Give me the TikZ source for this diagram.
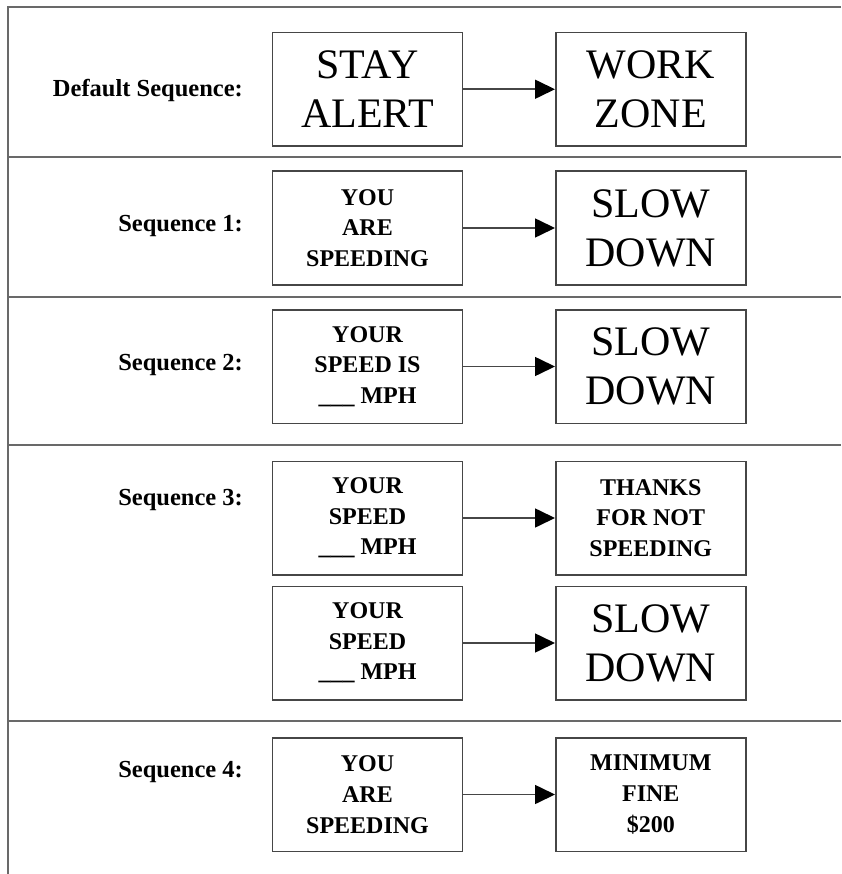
\documentclass[tikz,border=0pt]{standalone}
\usepackage{fontspec}
\setmainfont{Liberation Serif}
\usetikzlibrary{arrows.meta}
\definecolor{linegray}{RGB}{105,105,105}
\definecolor{boxgray}{RGB}{70,70,70}
\begin{document}
\begin{tikzpicture}[x=1pt,y=-1pt,
  frame/.style={draw=linegray, line width=2pt},
  box/.style={draw=boxgray, line width=1.5pt, minimum width=190pt, minimum height=113.5pt, inner sep=0pt, align=center, text=black},
  big/.style={box, font=\fontsize{42}{49}\selectfont},
  small/.style={box, font=\fontsize{24}{30.7}\selectfont\bfseries},
  lab/.style={anchor=base east, inner sep=0pt, font=\fontsize{24.5}{30}\selectfont\bfseries},
  conn/.style={draw=boxgray, line width=1.6pt, -{Triangle[length=20pt,width=19pt,black]}}]
\useasboundingbox (0,0) rectangle (841,874);
% frame and separators
\draw[frame] (841,7.5) -- (7.5,7.5) -- (7.5,874);
\draw[frame] (7.5,157.5) -- (841,157.5);
\draw[frame] (7.5,296.5) -- (841,296.5);
\draw[frame] (7.5,445) -- (841,445);
\draw[frame] (7.5,720.5) -- (841,720.5);
% labels
\node[lab] (l0) at (243,97) {Default Sequence:};
\node[lab] (l1) at (243,231.5) {Sequence 1:};
\node[lab] (l2) at (243,370) {Sequence 2:};
\node[lab] (l3) at (243,505) {Sequence 3:};
\node[lab] (l4) at (243,777) {Sequence 4:};
% boxes
\node[big] (a0) at (367.5,89.25) {STAY\\ALERT};
\node[big] (b0) at (650.75,89.25) {WORK\\ZONE};
\node[small] (a1) at (367.5,228) {YOU\\ARE\\SPEEDING};
\node[big] (b1) at (650.75,228) {SLOW\\DOWN};
\node[small] (a2) at (367.5,366.5) {YOUR\\SPEED IS\\\_\_\_ MPH};
\node[big] (b2) at (650.75,366.5) {SLOW\\DOWN};
\node[small] (a3) at (367.5,518) {YOUR\\SPEED\\\_\_\_ MPH};
\node[small] (b3) at (650.75,518) {THANKS\\FOR NOT\\SPEEDING};
\node[small] (a5) at (367.5,643) {YOUR\\SPEED\\\_\_\_ MPH};
\node[big] (b5) at (650.75,643) {SLOW\\DOWN};
\node[small] (a4) at (367.5,794.5) {YOU\\ARE\\SPEEDING};
\node[small] (b4) at (650.75,794.5) {MINIMUM\\FINE\\\$200};
% arrows
\draw[conn] (a0) -- (b0);
\draw[conn] (a1) -- (b1);
\draw[conn] (a2) -- (b2);
\draw[conn] (a3) -- (b3);
\draw[conn] (a5) -- (b5);
\draw[conn] (a4) -- (b4);
\end{tikzpicture}
\end{document}
